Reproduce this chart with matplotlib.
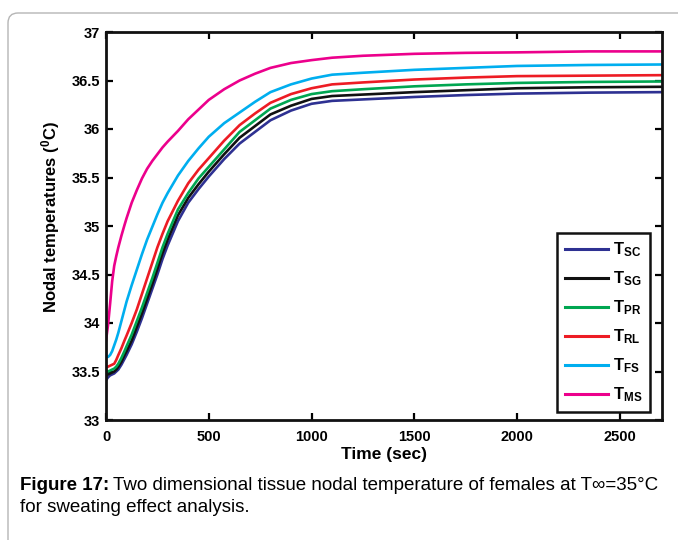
import matplotlib
matplotlib.use('Agg')
import matplotlib.pyplot as plt
from matplotlib.patches import FancyBboxPatch
from matplotlib.transforms import IdentityTransform

plt.rcParams['font.family'] = ['Liberation Sans', 'DejaVu Sans']
plt.rcParams['mathtext.fontset'] = 'custom'
plt.rcParams['mathtext.rm'] = 'Liberation Sans'
plt.rcParams['mathtext.bf'] = 'Liberation Sans:bold'
plt.rcParams['mathtext.it'] = 'Liberation Sans:italic'

# ---- data ----
time_s = [0, 10, 20, 30, 40, 50, 60, 75, 90, 100, 125, 150, 175, 200, 225, 250,
          275, 300, 350, 400, 450, 500, 575, 650, 725, 800, 900, 1000, 1100,
          1250, 1500, 1750, 2000, 2350, 2700]

T_SC = [33.41, 33.44, 33.46, 33.47, 33.48, 33.50, 33.52, 33.57, 33.63, 33.67,
        33.78, 33.91, 34.05, 34.20, 34.35, 34.50, 34.66, 34.80, 35.05, 35.24,
        35.38, 35.51, 35.69, 35.85, 35.97, 36.09, 36.19, 36.26, 36.29, 36.305,
        36.33, 36.35, 36.365, 36.375, 36.38]
T_SG = [33.46, 33.47, 33.48, 33.49, 33.50, 33.52, 33.55, 33.60, 33.67, 33.71,
        33.82, 33.96, 34.10, 34.25, 34.40, 34.56, 34.72, 34.86, 35.11, 35.29,
        35.43, 35.56, 35.74, 35.91, 36.03, 36.15, 36.24, 36.31, 36.34, 36.355,
        36.38, 36.40, 36.42, 36.43, 36.435]
T_PR = [33.50, 33.50, 33.51, 33.52, 33.53, 33.55, 33.58, 33.64, 33.71, 33.76,
        33.88, 34.02, 34.16, 34.31, 34.46, 34.62, 34.78, 34.92, 35.17, 35.34,
        35.49, 35.61, 35.79, 35.97, 36.09, 36.21, 36.30, 36.36, 36.39, 36.41,
        36.44, 36.46, 36.475, 36.485, 36.49]
T_RL = [33.55, 33.55, 33.56, 33.57, 33.58, 33.62, 33.67, 33.74, 33.82, 33.87,
        34.00, 34.14, 34.30, 34.46, 34.62, 34.78, 34.92, 35.05, 35.26, 35.44,
        35.58, 35.70, 35.88, 36.04, 36.16, 36.27, 36.36, 36.42, 36.46, 36.48,
        36.51, 36.53, 36.545, 36.55, 36.555]
T_FS = [33.65, 33.65, 33.67, 33.71, 33.77, 33.83, 33.90, 34.02, 34.14, 34.22,
        34.39, 34.55, 34.71, 34.86, 34.99, 35.12, 35.24, 35.34, 35.52, 35.67,
        35.80, 35.92, 36.06, 36.17, 36.28, 36.38, 36.46, 36.52, 36.56, 36.58,
        36.61, 36.63, 36.65, 36.66, 36.665]
T_MS = [33.82, 33.98, 34.20, 34.43, 34.59, 34.69, 34.78, 34.90, 35.01, 35.08,
        35.24, 35.37, 35.49, 35.59, 35.67, 35.74, 35.81, 35.87, 35.98, 36.10,
        36.20, 36.30, 36.41, 36.50, 36.57, 36.63, 36.68, 36.71, 36.735, 36.755,
        36.775, 36.785, 36.79, 36.80, 36.80]

series = [
    (T_SC, '#2e3192', r'$\mathbf{T_{SC}}$'),
    (T_SG, '#111111', r'$\mathbf{T_{SG}}$'),
    (T_PR, '#00a651', r'$\mathbf{T_{PR}}$'),
    (T_RL, '#ed1c24', r'$\mathbf{T_{RL}}$'),
    (T_FS, '#00aeef', r'$\mathbf{T_{FS}}$'),
    (T_MS, '#ec008c', r'$\mathbf{T_{MS}}$'),
]

xticks = [0, 500, 1000, 1500, 2000, 2500]
yticks = [33, 33.5, 34, 34.5, 35, 35.5, 36, 36.5, 37]
ytick_labels = ['33', '33.5', '34', '34.5', '35', '35.5', '36', '36.5', '37']

W, H = 678, 540
fig = plt.figure(figsize=(W / 100, H / 100), dpi=100)

# outer rounded frame
frame = FancyBboxPatch((8, -30), 720, H - 13 + 30,
                       boxstyle='round,pad=0,rounding_size=10',
                       transform=IdentityTransform(), fc='none',
                       ec='#b5b5b5', lw=1.0)
fig.add_artist(frame)

ax = fig.add_axes([106 / W, 1 - 420 / H, 556 / W, 388 / H])

for vals, col, lab in series:
    ax.plot(time_s, vals, color=col, lw=1.9, label=lab, solid_joinstyle='round')

ax.set_xlim(0, 2705)
ax.set_ylim(33, 37)
ax.set_xticks(xticks)
ax.set_yticks(yticks)
ax.set_xticklabels([str(v) for v in xticks])
ax.set_yticklabels(ytick_labels)
ax.tick_params(direction='in', length=5, width=1.6, top=True, right=True,
               labelsize=10.5)
ax.tick_params(axis='x', pad=7)
ax.tick_params(axis='y', pad=4)
for lbl in ax.get_xticklabels() + ax.get_yticklabels():
    lbl.set_fontweight('bold')
for sp in ax.spines.values():
    sp.set_linewidth(2.0)
    sp.set_color('#111111')

ax.set_xlabel('Time (sec)', fontsize=12.5, fontweight='bold', labelpad=2)
ax.set_ylabel(r'Nodal temperatures ($\mathbf{^{0}}$C)', fontsize=12,
              fontweight='bold')
ax.yaxis.set_label_coords(-0.079, 0.523)

leg = ax.legend(loc='lower right', bbox_to_anchor=(1 - 12 / 556, 8 / 388),
                fontsize=12, handlelength=2.6, handletextpad=0.3,
                labelspacing=0.62, borderpad=0.45, borderaxespad=0,
                fancybox=False, framealpha=1, edgecolor='#111111')
leg.get_frame().set_linewidth(1.8)
for l in leg.get_lines():
    l.set_linewidth(2.2)

# caption
fig.canvas.draw()
cap_fs = 13.5
t1 = fig.text(20 / W, 1 - 485 / H, 'Figure 17:', fontsize=cap_fs,
              fontweight='bold', va='center', ha='left')
r = fig.canvas.get_renderer()
bb = t1.get_window_extent(renderer=r)
fig.text((bb.x1 + 4) / W, 1 - 485 / H,
         'Two dimensional tissue nodal temperature of females at T\u221e=35\u00b0C',
         fontsize=cap_fs, va='center', ha='left')
fig.text(20 / W, 1 - 508 / H, 'for sweating effect analysis.', fontsize=cap_fs,
         va='center', ha='left')

fig.savefig('out.png', dpi=100)
